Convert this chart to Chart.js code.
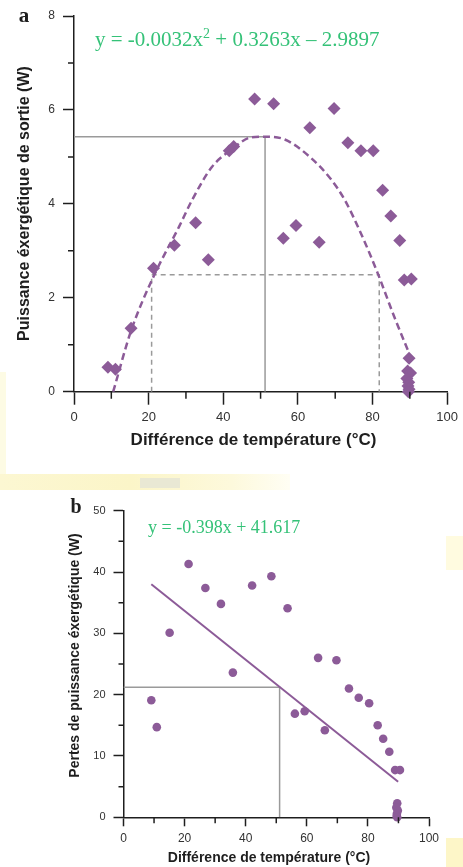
<!DOCTYPE html>
<html>
<head>
<meta charset="utf-8">
<script src="https://cdn.jsdelivr.net/npm/chart.js@4.4.1/dist/chart.umd.min.js"></script>
<style>
    body { margin: 0; background: #fff; width: 463px; height: 867px; position: relative; overflow: hidden; }
    canvas { position: absolute; left: 0; }
    #chartA { top: 0; }
    #chartB { top: 470px; }
    .smear { position: absolute; }
</style>
</head>
<body>
<!-- taches jaunes du scan -->
<div class="smear" style="left:0;top:372px;width:6px;height:104px;background:#fdfbe4"></div>
<div class="smear" style="left:0;top:474px;width:290px;height:16px;background:linear-gradient(90deg,#fcf7d2 0%,#fbf5c8 45%,#fdf9dc 80%,#fffef4 100%)"></div>
<div class="smear" style="left:140px;top:478px;width:40px;height:10px;background:#e9e8d4"></div>
<div class="smear" style="left:446px;top:536px;width:17px;height:34px;background:#fffbe0"></div>
<div class="smear" style="left:446px;top:838px;width:17px;height:29px;background:#fdf6c8"></div>

<canvas id="chartA" width="463" height="460"></canvas>
<canvas id="chartB" width="463" height="397"></canvas>

<script>
// --- Données (a) : puissance exergétique de sortie
const tempA = [9.1, 11.1, 15.3, 21.3, 26.9, 32.6, 36.0, 41.6, 42.8, 48.4, 53.5, 56.1, 59.5, 63.2, 65.7, 69.7,
    73.4, 76.9, 80.2, 82.7, 84.9, 87.3, 88.5, 90.4, 89.8, 89.4, 90.2, 89.2, 89.7, 89.5, 89.8, 89.6];
const powerA = [0.52, 0.48, 1.35, 2.63, 3.12, 3.60, 2.81, 5.13, 5.22, 6.23, 6.13, 3.27, 3.54, 5.62, 3.18, 6.03,
    5.30, 5.13, 5.13, 4.29, 3.74, 3.22, 2.38, 2.40, 0.71, 0.44, 0.40, 0.28, 0.20, 0.12, 0.05, 0.0];
// courbe de tendance
const trendAx = [10.5, 15.3, 21.3, 28.2, 31.7, 37.0, 42.1, 47.7, 51.2, 56.5, 63.2, 69.0, 72.5, 76.9, 81.4, 85.8, 89.8];
const trendAy = [0, 1.30, 2.45, 3.52, 4.09, 4.79, 5.15, 5.42, 5.43, 5.37, 5.00, 4.51, 4.09, 3.37, 2.52, 1.60, 0.82];
// lignes de repère
const optAx = [0, 51.2, 51.2];
const optAy = [5.43, 5.43, 0];
const halfAx = [20.8, 20.8, 81.8, 81.8];
const halfAy = [0, 2.49, 2.49, 0];
const minorXA = [10, 30, 50, 70, 90];
const minorYA = [1, 3, 5, 7];

// --- Données (b) : pertes de puissance exergétique
const tempB = [9.1, 10.9, 15.1, 21.3, 26.8, 31.9, 35.8, 42.1, 48.4, 53.7, 56.1, 59.3, 63.7, 65.9, 69.7, 73.8,
    77.0, 80.4, 83.2, 85.0, 87.0, 88.9, 90.5, 89.6, 89.3, 89.8, 89.5, 89.4, 89.6];
const lossB = [19.1, 14.7, 30.1, 41.3, 37.4, 34.8, 23.6, 37.8, 39.3, 34.1, 16.9, 17.3, 26.0, 14.2, 25.6, 21.0,
    19.5, 18.6, 15.0, 12.8, 10.7, 7.7, 7.7, 2.3, 1.6, 1.1, 0.6, 0.2, 0.0];
const fitBx = [9.1, 89.9];
const fitBy = [38.0, 5.8];
const optBx = [0, 51.1, 51.1];
const optBy = [21.2, 21.2, 0];
const minorXB = [10, 30, 50, 70, 90];
const minorYB = [5, 15, 25, 35, 45];

const purple = '#8c5b98';
const green = '#35c278';
const ink = '#1e1e1e';

function pts(xs, ys) {
    return xs.map((x, i) => ({ x: x, y: ys[i] }));
}

Chart.defaults.font.family = '"Liberation Sans", Arial, sans-serif';

// petites graduations
const minorTicks = {
    id: 'minorTicks',
    afterDraw(chart, args, opts) {
        const ctx = chart.ctx;
        const area = chart.chartArea;
        ctx.save();
        ctx.strokeStyle = ink;
        ctx.lineWidth = 1.5;
        ctx.beginPath();
        opts.xValues.forEach(v => {
            const px = chart.scales.x.getPixelForValue(v);
            ctx.moveTo(px, area.bottom);
            ctx.lineTo(px, area.bottom + opts.xLen);
        });
        opts.yValues.forEach(v => {
            const py = chart.scales.y.getPixelForValue(v);
            ctx.moveTo(area.left, py);
            ctx.lineTo(area.left - opts.yLen, py);
        });
        ctx.stroke();
        ctx.restore();
    }
};

// textes : titres d'axes, lettre du panneau, équation
const paperText = {
    id: 'paperText',
    afterDraw(chart, args, opts) {
        const ctx = chart.ctx;
        opts.items.forEach(t => {
            ctx.save();
            ctx.fillStyle = t.color || ink;
            ctx.textBaseline = 'middle';
            ctx.translate(t.x, t.y);
            if (t.rotate) ctx.rotate(t.rotate);
            if (t.parts) {
                let cx = 0;
                ctx.textAlign = 'left';
                t.parts.forEach(p => {
                    ctx.font = p.sup ? t.supFont : t.font;
                    ctx.fillText(p.text, cx, p.sup ? -t.supRise : 0);
                    cx += ctx.measureText(p.text).width;
                });
            } else {
                ctx.font = t.font;
                ctx.textAlign = 'center';
                ctx.fillText(t.text, 0, 0);
            }
            ctx.restore();
        });
    }
};

function axes(opt) {
    return {
        x: {
            type: 'linear', min: 0, max: 100,
            ticks: { stepSize: 20, color: '#333', font: { size: opt.xFont }, padding: opt.xPad, maxRotation: 0, autoSkip: false },
            grid: { display: true, drawOnChartArea: false, tickLength: opt.xTick, tickColor: ink, tickWidth: 1.5 },
            border: { display: true, color: ink, width: 1.5 },
            afterFit(scale) { scale.height = opt.xHeight; }
        },
        y: {
            type: 'linear', min: 0, max: opt.yMax,
            ticks: { stepSize: opt.yStep, color: '#333', font: { size: opt.yFont }, padding: opt.yPad },
            grid: { display: true, drawOnChartArea: false, tickLength: opt.yTick, tickColor: ink, tickWidth: 1.5 },
            border: { display: true, color: ink, width: 1.5 },
            afterFit(scale) { scale.width = opt.yWidth; }
        }
    };
}

// ---------- Graphique a ----------
new Chart(document.getElementById('chartA'), {
    type: 'scatter',
    data: {
        datasets: [
            {
                data: pts(tempA, powerA),
                pointStyle: 'rectRot', pointRadius: 6.5,
                backgroundColor: purple, borderColor: purple, borderWidth: 0,
                clip: false
            },
            {
                data: pts(trendAx, trendAy), showLine: true, pointRadius: 0,
                borderColor: purple, borderWidth: 2.5, borderDash: [7, 4],
                cubicInterpolationMode: 'monotone', clip: false
            },
            {
                data: pts(optAx, optAy), showLine: true, pointRadius: 0,
                borderColor: '#9a9a9a', borderWidth: 1.5, tension: 0
            },
            {
                data: pts(halfAx, halfAy), showLine: true, pointRadius: 0,
                borderColor: '#9a9a9a', borderWidth: 1.5, borderDash: [5, 4], tension: 0
            }
        ]
    },
    options: {
        responsive: false,
        animation: false,
        layout: { padding: { top: 16, right: 13, left: 0, bottom: 0 } },
        scales: axes({ xFont: 13, xPad: 5, xTick: 13, xHeight: 68.3, yMax: 8, yStep: 2, yFont: 12, yPad: 8, yTick: 11, yWidth: 74 }),
        plugins: {
            legend: { display: false },
            tooltip: { enabled: false },
            minorTicks: { xValues: minorXA, yValues: minorYA, xLen: 7, yLen: 6 },
            paperText: {
                items: [
                    { text: 'a', x: 24, y: 17, font: 'bold 21px "Liberation Serif", serif' },
                    { text: 'Puissance éxergétique de sortie (W)', x: 25, y: 203.5, rotate: -Math.PI / 2, font: 'bold 16px "Liberation Sans", Arial, sans-serif' },
                    { text: 'Différence de température (°C)', x: 253.5, y: 440, font: 'bold 17px "Liberation Sans", Arial, sans-serif' },
                    {
                        x: 95, y: 40, color: green,
                        font: '21px "Liberation Serif", serif', supFont: '14px "Liberation Serif", serif', supRise: 6,
                        parts: [{ text: 'y = -0.0032x' }, { text: '2', sup: true }, { text: ' + 0.3263x – 2.9897' }]
                    }
                ]
            }
        }
    },
    plugins: [minorTicks, paperText]
});

// ---------- Graphique b ----------
new Chart(document.getElementById('chartB'), {
    type: 'scatter',
    data: {
        datasets: [
            {
                data: pts(tempB, lossB),
                pointStyle: 'circle', pointRadius: 4.3,
                backgroundColor: purple, borderColor: purple, borderWidth: 0,
                clip: false
            },
            {
                data: pts(fitBx, fitBy), showLine: true, pointRadius: 0,
                borderColor: purple, borderWidth: 2, tension: 0
            },
            {
                data: pts(optBx, optBy), showLine: true, pointRadius: 0,
                borderColor: '#9a9a9a', borderWidth: 1.5, tension: 0
            }
        ]
    },
    options: {
        responsive: false,
        animation: false,
        layout: { padding: { top: 40.7, right: 34, left: 0, bottom: 0 } },
        scales: axes({ xFont: 12, xPad: 5, xTick: 9, xHeight: 49.7, yMax: 50, yStep: 10, yFont: 11, yPad: 8, yTick: 10, yWidth: 123.5 }),
        plugins: {
            legend: { display: false },
            tooltip: { enabled: false },
            minorTicks: { xValues: minorXB, yValues: minorYB, xLen: 6, yLen: 5 },
            paperText: {
                items: [
                    { text: 'b', x: 76, y: 37.5, font: 'bold 20px "Liberation Serif", serif' },
                    { text: 'Pertes de puissance éxergétique (W)', x: 75, y: 185.5, rotate: -Math.PI / 2, font: 'bold 14px "Liberation Sans", Arial, sans-serif' },
                    { text: 'Différence de température (°C)', x: 269, y: 388, font: 'bold 14px "Liberation Sans", Arial, sans-serif' },
                    {
                        x: 148, y: 58, color: green,
                        font: '18px "Liberation Serif", serif',
                        parts: [{ text: 'y = -0.398x + 41.617' }]
                    }
                ]
            }
        }
    },
    plugins: [minorTicks, paperText]
});
</script>
</body>
</html>
